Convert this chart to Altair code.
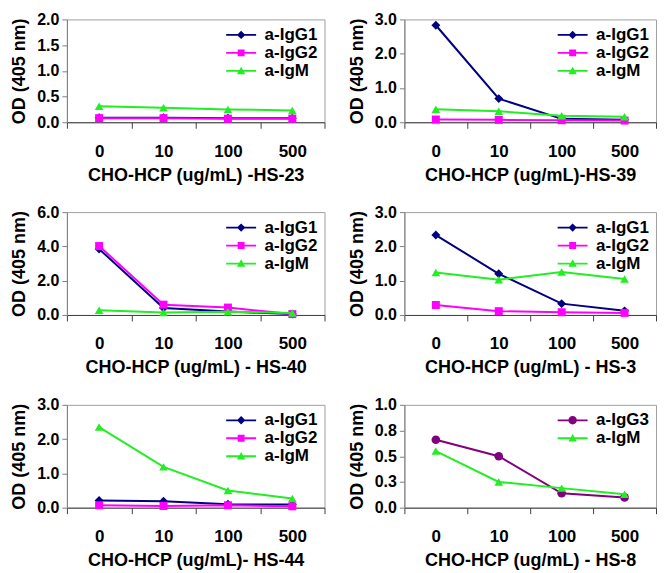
import altair as alt
import pandas as pd

conc = ["0", "10", "100", "500"]

series_igg1 = "a-IgG1"
series_igg2 = "a-IgG2"
series_igg3 = "a-IgG3"
series_igm = "a-IgM"

# HS-23
hs23_igg1 = [0.09, 0.09, 0.08, 0.08]
hs23_igg2 = [0.08, 0.08, 0.07, 0.07]
hs23_igm = [0.31, 0.28, 0.25, 0.23]
# HS-39
hs39_igg1 = [2.83, 0.69, 0.10, 0.07]
hs39_igg2 = [0.08, 0.07, 0.06, 0.05]
hs39_igm = [0.38, 0.32, 0.19, 0.16]
# HS-40
hs40_igg1 = [3.85, 0.40, 0.20, 0.05]
hs40_igg2 = [4.02, 0.60, 0.43, 0.05]
hs40_igm = [0.28, 0.15, 0.19, 0.12]
# HS-3
hs3_igg1 = [2.33, 1.20, 0.33, 0.12]
hs3_igg2 = [0.29, 0.11, 0.08, 0.06]
hs3_igm = [1.24, 1.03, 1.25, 1.05]
# HS-44
hs44_igg1 = [0.21, 0.19, 0.10, 0.09]
hs44_igg2 = [0.07, 0.05, 0.07, 0.04]
hs44_igm = [2.35, 1.19, 0.50, 0.27]
# HS-8
hs8_igg3 = [0.66, 0.50, 0.14, 0.10]
hs8_igm = [0.55, 0.25, 0.19, 0.13]

titles = [
    "CHO-HCP (ug/mL) -HS-23",
    "CHO-HCP (ug/mL)-HS-39",
    "CHO-HCP (ug/mL) - HS-40",
    "CHO-HCP (ug/mL) - HS-3",
    "CHO-HCP (ug/mL)- HS-44",
    "CHO-HCP (ug/mL) - HS-8",
]
y_max = [2.0, 3.0, 6.0, 3.0, 3.0, 1.0]
y_ticks = [
    [0, 0.5, 1.0, 1.5, 2.0],
    [0, 1, 2, 3],
    [0, 2, 4, 6],
    [0, 1, 2, 3],
    [0, 1, 2, 3],
    [0, 0.25, 0.5, 0.75, 1.0],
]

COLOR = {series_igg1: "#000080", series_igg2: "#FF00FF",
         series_igg3: "#800080", series_igm: "#22EE22"}
SHAPE = {series_igg1: "diamond", series_igg2: "square",
         series_igg3: "circle", series_igm: "triangle-up"}
SIZE = {series_igg1: 80, series_igg2: 64, series_igg3: 75, series_igm: 75}

_line = "M-5,-0.3H5V0.3H-5Z"
LEGEND_PATH = {
    series_igg1: _line + "M0,-1.4L1.4,0L0,1.4L-1.4,0Z",
    series_igg2: _line + "M-1.15,-1.15H1.15V1.15H-1.15Z",
    series_igg3: _line + "M-1.4,0A1.4,1.4 0 1,1 1.4,0A1.4,1.4 0 1,1 -1.4,0Z",
    series_igm: _line + "M0,-1.4L1.4,1.1H-1.4Z",
}

FONT = "Liberation Sans"


def legend_def():
    return alt.Legend(title=None, orient="top-right", offset=7,
                      labelFont=FONT, labelFontSize=17,
                      labelFontWeight="bold", labelColor="black",
                      symbolSize=36, symbolStrokeWidth=0, symbolOpacity=1,
                      labelOffset=15, rowPadding=0)


def panel(names, values, title, ymax, yticks, width, height):
    rows = []
    for name, vals in zip(names, values):
        for c, v in zip(conc, vals):
            rows.append({"conc": c, "series": name, "od": v})
    df = pd.DataFrame(rows)
    colors = [COLOR[n] for n in names]

    x = alt.X("conc:N", sort=conc,
              scale=alt.Scale(domain=conc, paddingInner=0, paddingOuter=0),
              axis=alt.Axis(title=title, labelAngle=0, tickBand="extent",
                            tickSize=6, tickColor="#404040", domainColor="#404040",
                            labelPadding=15, titlePadding=7,
                            labelFontSize=17, titleFontSize=18))
    y = alt.Y("od:Q",
              scale=alt.Scale(domain=[0, ymax], nice=False, zero=True),
              axis=alt.Axis(title="OD (405 nm)", values=yticks, format=".1f",
                            tickSize=5, tickColor="#808080", domainColor="#808080",
                            labelPadding=3, titlePadding=8,
                            labelFontSize=16, titleFontSize=18, grid=False))
    base = alt.Chart(df)
    layers = []
    # invisible layer that only provides the legend (line + marker symbols)
    leg = base.mark_point(filled=True, opacity=0).encode(
        x=x, y=y,
        color=alt.Color("series:N", scale=alt.Scale(domain=names, range=colors),
                        legend=legend_def()),
        shape=alt.Shape("series:N",
                        scale=alt.Scale(domain=names, range=[LEGEND_PATH[n] for n in names]),
                        legend=legend_def()),
    )
    layers.append(leg)
    for n in names:
        sub = base.transform_filter(alt.datum.series == n)
        layers.append(sub.mark_line(strokeWidth=2, color=COLOR[n]).encode(x=x, y=y))
        layers.append(
            sub.mark_point(shape=SHAPE[n], filled=True, size=SIZE[n], color=COLOR[n], opacity=1)
            .encode(x=x, y=y)
        )
    return alt.layer(*layers).properties(width=width, height=height)


W_L, W_R, H = 258, 252, 103

p1 = panel([series_igg1, series_igg2, series_igm], [hs23_igg1, hs23_igg2, hs23_igm],
           titles[0], y_max[0], y_ticks[0], W_L, H)
p2 = panel([series_igg1, series_igg2, series_igm], [hs39_igg1, hs39_igg2, hs39_igm],
           titles[1], y_max[1], y_ticks[1], W_R, H)
p3 = panel([series_igg1, series_igg2, series_igm], [hs40_igg1, hs40_igg2, hs40_igm],
           titles[2], y_max[2], y_ticks[2], W_L, H)
p4 = panel([series_igg1, series_igg2, series_igm], [hs3_igg1, hs3_igg2, hs3_igm],
           titles[3], y_max[3], y_ticks[3], W_R, H)
p5 = panel([series_igg1, series_igg2, series_igm], [hs44_igg1, hs44_igg2, hs44_igm],
           titles[4], y_max[4], y_ticks[4], W_L, H)
p6 = panel([series_igg3, series_igm], [hs8_igg3, hs8_igm],
           titles[5], y_max[5], y_ticks[5], W_R, H)


def row(a, b):
    return alt.hconcat(a, b, spacing=22).resolve_scale(
        color="independent", shape="independent"
    ).resolve_legend(color="independent", shape="independent")


chart = alt.vconcat(
    row(p1, p2), row(p3, p4), row(p5, p6),
    spacing=18,
).resolve_scale(
    color="independent", shape="independent"
).resolve_legend(
    color="independent", shape="independent"
).properties(padding=2, background="white").configure_view(
    stroke="#a0a0a0", strokeWidth=1
).configure_axis(
    labelFont=FONT, titleFont=FONT, labelFontWeight="bold", titleFontWeight="bold",
    labelColor="black", titleColor="black",
)

chart.save("out.html", embed_options={"renderer": "svg", "actions": False})
